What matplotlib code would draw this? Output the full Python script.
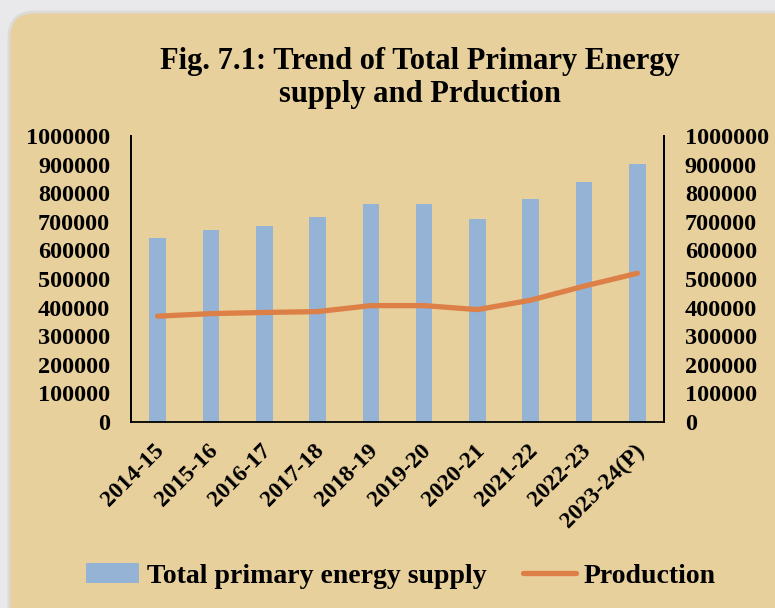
import matplotlib
matplotlib.use("Agg")
import matplotlib.pyplot as plt
from matplotlib.patches import FancyBboxPatch

years = ["2014-15", "2015-16", "2016-17", "2017-18", "2018-19",
         "2019-20", "2020-21", "2021-22", "2022-23", "2023-24(P)"]
supply = [642000, 673000, 684000, 716000, 761000,
          761000, 709000, 778000, 838000, 903000]
production = [370000, 379000, 383000, 386000, 407000,
              407000, 393000, 426000, 475000, 520000]
yticks = [0, 100000, 200000, 300000, 400000, 500000,
          600000, 700000, 800000, 900000, 1000000]

bg = "#e8d09c"
bar_col = "#95b3d5"
line_col = "#dd8048"

plt.rcParams["font.family"] = ["Liberation Serif", "DejaVu Serif"]
plt.rcParams["font.weight"] = "bold"

fig = plt.figure(figsize=(7.75, 6.08), dpi=100)
fig.patch.set_facecolor("#e9e8ea")

# rounded tan card behind everything
card = FancyBboxPatch((0.09, -0.5), 8.5, 6.08 - 0.12 + 0.5,
                      boxstyle="round,pad=0,rounding_size=0.26",
                      transform=fig.dpi_scale_trans,
                      facecolor=bg, edgecolor="#dcdad6", linewidth=2,
                      zorder=-10)
fig.add_artist(card)

ax = fig.add_axes([131 / 775, 1 - 422 / 608, 533 / 775, 286 / 608])
ax.set_facecolor("none")
ax2 = ax.twinx()

x = list(range(len(years)))
b = ax.bar(x, supply, width=0.31, color=bar_col, zorder=2)
ln, = ax2.plot(x, production, color=line_col, linewidth=3.8,
               solid_capstyle="round", zorder=3)

for a in (ax, ax2):
    a.set_ylim(0, 1000000)
    a.set_yticks(yticks)
    a.set_yticklabels([str(v) for v in yticks])
    a.tick_params(axis="y", length=0, labelsize=17.5)
    a.spines["top"].set_visible(False)
    for s in ("left", "right", "bottom"):
        a.spines[s].set_linewidth(1.3)
ax.tick_params(axis="y", pad=15)
ax2.tick_params(axis="y", pad=15)
ax.set_xlim(-0.5, len(years) - 0.5)
# small offset so the rotated labels end near the bar centres (ticks are hidden)
ax.set_xticks([i - 0.07 for i in x])
ax.set_xticklabels(years, rotation=45, ha="right", va="top",
                   rotation_mode="anchor", fontsize=17)
ax.tick_params(axis="x", length=0, pad=13)
ax2.spines["bottom"].set_visible(False)

fig.text(420 / 775, 1 - 78 / 608,
         "Fig. 7.1: Trend of Total Primary Energy\nsupply and Prduction",
         ha="center", va="center", fontsize=22, fontweight="bold",
         linespacing=1.2)

fig.legend([b, ln], ["Total primary energy supply", "Production"],
           loc="center", bbox_to_anchor=(401 / 775, 1 - 576 / 608),
           ncol=2, frameon=False, fontsize=20, handlelength=1.9,
           handletextpad=0.3, columnspacing=1.3)

fig.savefig("out.png", dpi=100, facecolor=fig.get_facecolor())
